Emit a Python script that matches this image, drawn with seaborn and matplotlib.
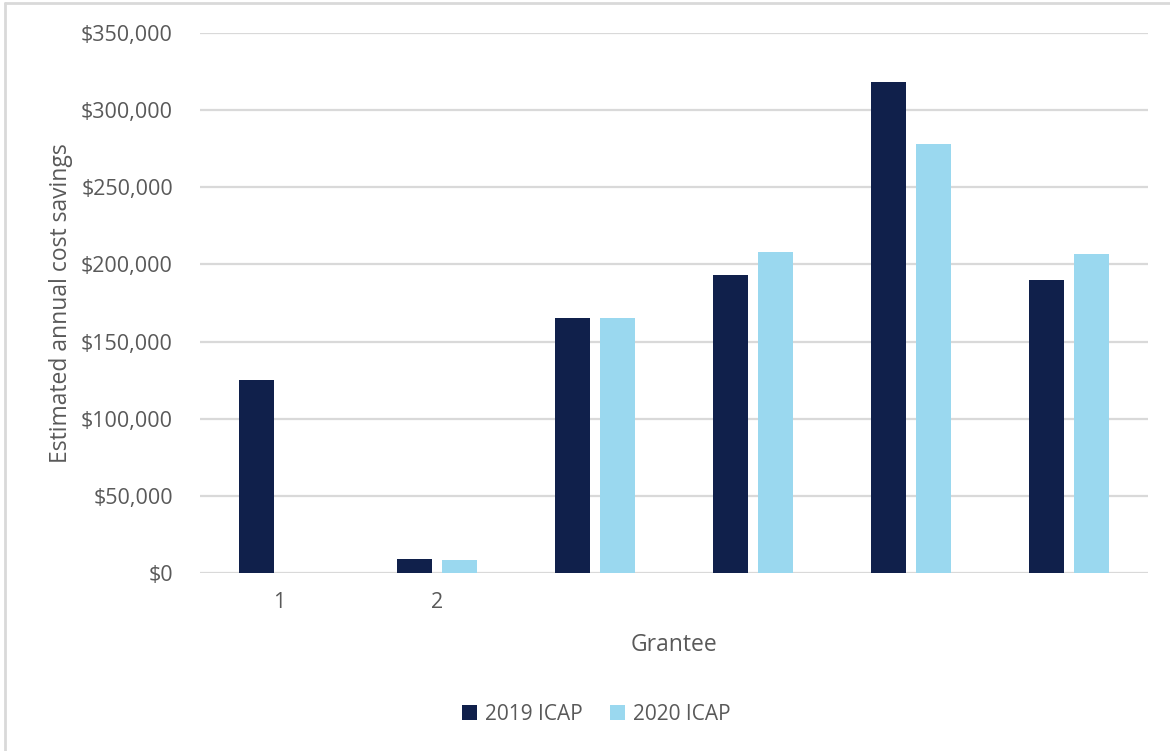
import numpy as np
import pandas as pd
import matplotlib
matplotlib.use("Agg")
import matplotlib.pyplot as plt
import seaborn as sns
from matplotlib.ticker import FuncFormatter, MultipleLocator

# Estimated annual cost savings per grantee
grantees = ["1", "2", "3", "4", "5", "6"]
tick_labels = ["1", "2", "", "", "", ""]
savings_2019 = [125000, 9000, 165000, 193000, 318000, 190000]
savings_2020 = [0, 8500, 165000, 208000, 278000, 207000]
series_names = ["2019 ICAP", "2020 ICAP"]
series_colors = ["#10204B", "#9AD8EF"]

df = pd.DataFrame({
    "Grantee": grantees * 2,
    "Savings": savings_2019 + savings_2020,
    "Series": [series_names[0]] * len(grantees) + [series_names[1]] * len(grantees),
})

sns.set_theme(style="white")
plt.rcParams["font.family"] = ["Open Sans", "DejaVu Sans"]
text_color = "#595959"
grid_color = "#D9D9D9"

W, H = 1170, 751
fig = plt.figure(figsize=(W / 100, H / 100), dpi=100)
fig.patch.set_facecolor("white")
ax = fig.add_axes([200 / W, (H - 573) / H, (1148 - 200) / W, (573 - 33) / H])

sns.barplot(
    data=df, x="Grantee", y="Savings", hue="Series", order=grantees,
    hue_order=series_names, palette=series_colors, width=0.57, gap=0.22,
    saturation=1, legend=False, ax=ax, zorder=3, linewidth=0,
)

ax.set_ylim(0, 350000)
ax.set_xlim(-0.5, len(grantees) - 0.5)
ax.yaxis.set_major_locator(MultipleLocator(50000))
ax.yaxis.set_major_formatter(FuncFormatter(lambda v, _: f"${v:,.0f}"))
ax.set_xticks(range(len(grantees)))
ax.set_xticklabels(tick_labels)
ax.grid(axis="y", color=grid_color, linewidth=1.6, zorder=0)
ax.set_axisbelow(True)
for side in ["top", "right", "left", "bottom"]:
    ax.spines[side].set_visible(False)
ax.tick_params(axis="both", length=0, labelsize=15.5, colors=text_color)
ax.tick_params(axis="y", pad=19.5)
ax.tick_params(axis="x", pad=14)

ax.set_xlabel("Grantee", fontsize=16.5, color=text_color, labelpad=14)
ax.set_ylabel("Estimated annual cost savings", fontsize=16.5, color=text_color)
ax.yaxis.set_label_coords(-127 / 948, 0.5)

handles = [plt.Rectangle((0, 0), 1, 1, facecolor=c, edgecolor="none") for c in series_colors]
fig.legend(
    handles, series_names, loc="center", bbox_to_anchor=(596 / W, (H - 714) / H),
    ncol=2, frameon=False, fontsize=15, labelcolor=text_color,
    handlelength=0.75, handleheight=0.75, handletextpad=0.35, columnspacing=1.3,
)

# light frame along the top and left edges of the chart area
fig.add_artist(plt.Line2D([5 / W, 5 / W], [0, 1 - 3 / H], transform=fig.transFigure,
                          color=grid_color, linewidth=2))
fig.add_artist(plt.Line2D([5 / W, 1], [1 - 3 / H, 1 - 3 / H], transform=fig.transFigure,
                          color=grid_color, linewidth=2))

fig.savefig("out.png", dpi=100, facecolor="white")
